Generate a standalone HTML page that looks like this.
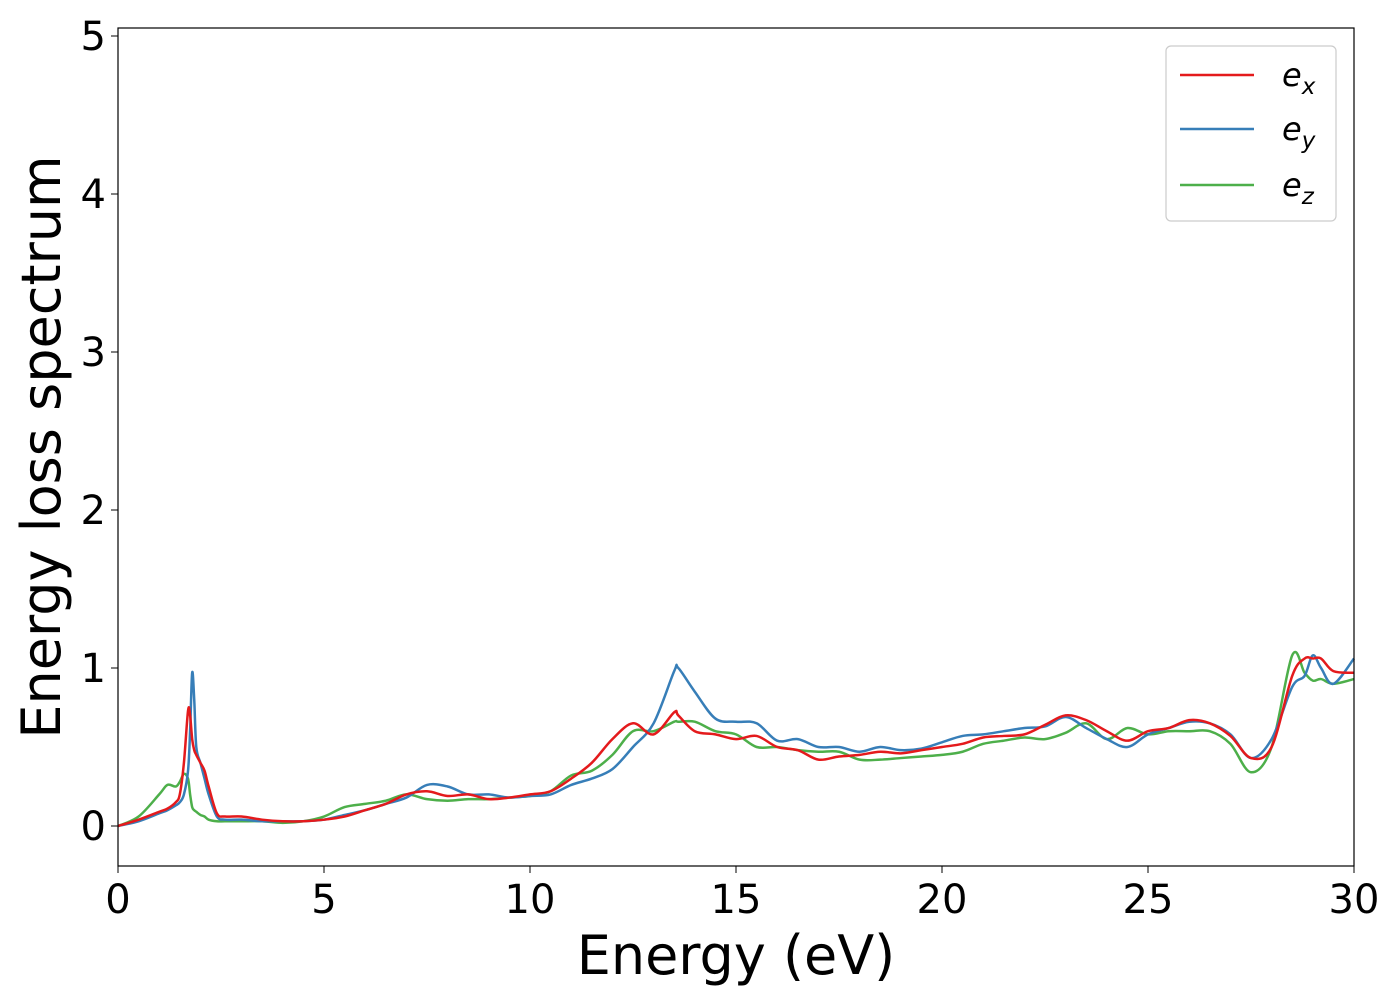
<!DOCTYPE html>
<html><head><meta charset="utf-8"><style>
body{margin:0;background:#fff}
text{font-family:"DejaVu Sans","Liberation Sans",sans-serif}
</style></head><body>
<svg id="chart" width="1400" height="1000" xmlns="http://www.w3.org/2000/svg">
<rect width="1400" height="1000" fill="#fff"/>
<g id="grid"></g>
<g id="series"></g>
<rect x="118" y="28" width="1236" height="838" fill="none" stroke="#000" stroke-width="1.2"/>
<g id="xticks"></g><g id="yticks"></g>
<text x="736" y="974" font-size="54" text-anchor="middle">Energy (eV)</text>
<text transform="translate(60,447) rotate(-90)" font-size="54" text-anchor="middle">Energy loss spectrum</text>
<g>
<rect x="1166" y="46" width="170" height="175" rx="5" fill="#fff" stroke="#ccc" stroke-width="1.2"/>
<line x1="1180" y1="75" x2="1254" y2="75" stroke="#e41a1c" stroke-width="2.5"/>
<text x="1282" y="86" font-size="32" font-style="italic">e<tspan font-size="23" dy="8">x</tspan></text>
<line x1="1180" y1="129" x2="1254" y2="129" stroke="#377eb8" stroke-width="2.5"/>
<text x="1282" y="140" font-size="32" font-style="italic">e<tspan font-size="23" dy="8">y</tspan></text>
<line x1="1180" y1="185" x2="1254" y2="185" stroke="#4daf4a" stroke-width="2.5"/>
<text x="1282" y="196" font-size="32" font-style="italic">e<tspan font-size="23" dy="8">z</tspan></text>
</g>
</svg>
<script>
const energies=[0,0.5,1,1.2,1.4,1.5,1.6,1.7,1.75,1.8,1.85,1.9,2.0,2.1,2.2,2.4,2.6,3,3.5,4,4.5,5,5.5,6,6.5,7,7.5,8,8.5,9,9.5,10,10.5,11,11.5,12,12.5,13,13.5,13.6,14,14.5,15,15.5,16,16.5,17,17.5,18,18.5,19,19.5,20,20.5,21,21.5,22,22.5,23,23.5,24,24.5,25,25.5,26,26.5,27,27.5,28,28.5,28.8,29,29.2,29.5,30];
const ex=[0,0.04,0.09,0.11,0.15,0.2,0.4,0.73,0.7,0.55,0.48,0.45,0.4,0.35,0.25,0.08,0.06,0.06,0.04,0.03,0.03,0.04,0.06,0.1,0.14,0.2,0.22,0.19,0.2,0.17,0.18,0.2,0.22,0.3,0.4,0.55,0.65,0.58,0.72,0.7,0.6,0.58,0.55,0.57,0.5,0.48,0.42,0.44,0.45,0.47,0.46,0.48,0.5,0.52,0.56,0.57,0.58,0.64,0.7,0.67,0.6,0.54,0.6,0.62,0.67,0.65,0.57,0.43,0.5,0.95,1.06,1.06,1.06,0.98,0.97];
const ey=[0,0.03,0.08,0.1,0.13,0.15,0.2,0.35,0.6,0.97,0.8,0.5,0.4,0.3,0.2,0.06,0.04,0.04,0.03,0.03,0.03,0.04,0.07,0.1,0.14,0.18,0.26,0.25,0.2,0.2,0.18,0.19,0.2,0.26,0.3,0.36,0.5,0.65,0.98,1.0,0.85,0.68,0.66,0.65,0.54,0.55,0.5,0.5,0.47,0.5,0.48,0.49,0.53,0.57,0.58,0.6,0.62,0.63,0.69,0.62,0.55,0.5,0.58,0.62,0.66,0.65,0.58,0.43,0.55,0.88,0.95,1.08,1.0,0.9,1.06];
const ez=[0,0.06,0.2,0.26,0.25,0.28,0.33,0.3,0.2,0.12,0.1,0.09,0.07,0.06,0.04,0.03,0.03,0.03,0.03,0.02,0.03,0.06,0.12,0.14,0.16,0.2,0.17,0.16,0.17,0.17,0.18,0.19,0.22,0.32,0.35,0.45,0.6,0.6,0.66,0.66,0.66,0.6,0.58,0.5,0.5,0.48,0.47,0.47,0.42,0.42,0.43,0.44,0.45,0.47,0.52,0.54,0.56,0.55,0.59,0.65,0.55,0.62,0.58,0.6,0.6,0.6,0.52,0.34,0.5,1.08,0.97,0.92,0.93,0.9,0.93];
const xTicks=[0,5,10,15,20,25,30];
const yTicks=[0,1,2,3,4,5];
const X=v=>118+v/30*1236;
const Y=v=>826-v*158;
const NS="http://www.w3.org/2000/svg";
function path(xs,ys){let d="";for(let i=0;i<xs.length;i++){const px=X(xs[i]),py=Y(ys[i]);
 if(i===0){d+=`M${px},${py}`;continue;}
 const x0=X(xs[Math.max(i-2,0)]),y0=Y(ys[Math.max(i-2,0)]),x1=X(xs[i-1]),y1=Y(ys[i-1]);
 const x3=X(xs[Math.min(i+1,xs.length-1)]),y3=Y(ys[Math.min(i+1,xs.length-1)]);
 d+=`C${x1+(px-x0)/6},${y1+(py-y0)/6} ${px-(x3-x1)/6},${py-(y3-y1)/6} ${px},${py}`;}return d;}
const sg=document.getElementById('series');
[[ez,'#4daf4a','series-ez'],[ey,'#377eb8','series-ey'],[ex,'#e41a1c','series-ex']].forEach(([arr,c,n])=>{
 const p=document.createElementNS(NS,'path');
 p.setAttribute('d',path(energies,arr));p.setAttribute('fill','none');p.setAttribute('stroke',c);p.setAttribute('stroke-width','2.5');
 
 
 sg.appendChild(p);});
const xg=document.getElementById('xticks');
xTicks.forEach(t=>{
 const l=document.createElementNS(NS,'line');l.setAttribute('x1',X(t));l.setAttribute('x2',X(t));l.setAttribute('y1',866);l.setAttribute('y2',873);l.setAttribute('stroke','#000');
 
 
 xg.appendChild(l);
 const tx=document.createElementNS(NS,'text');tx.setAttribute('x',X(t));tx.setAttribute('y',913);tx.setAttribute('font-size','40');tx.setAttribute('text-anchor','middle');tx.textContent=t;
 
 
 xg.appendChild(tx);});
const yg=document.getElementById('yticks');
yTicks.forEach(t=>{
 const l=document.createElementNS(NS,'line');l.setAttribute('x1',111);l.setAttribute('x2',118);l.setAttribute('y1',Y(t));l.setAttribute('y2',Y(t));l.setAttribute('stroke','#000');
 
 
 yg.appendChild(l);
 const tx=document.createElementNS(NS,'text');tx.setAttribute('x',106);tx.setAttribute('y',Y(t)+14);tx.setAttribute('font-size','40');tx.setAttribute('text-anchor','end');tx.textContent=t;
 
 
 yg.appendChild(tx);});
</script>
</body></html>
